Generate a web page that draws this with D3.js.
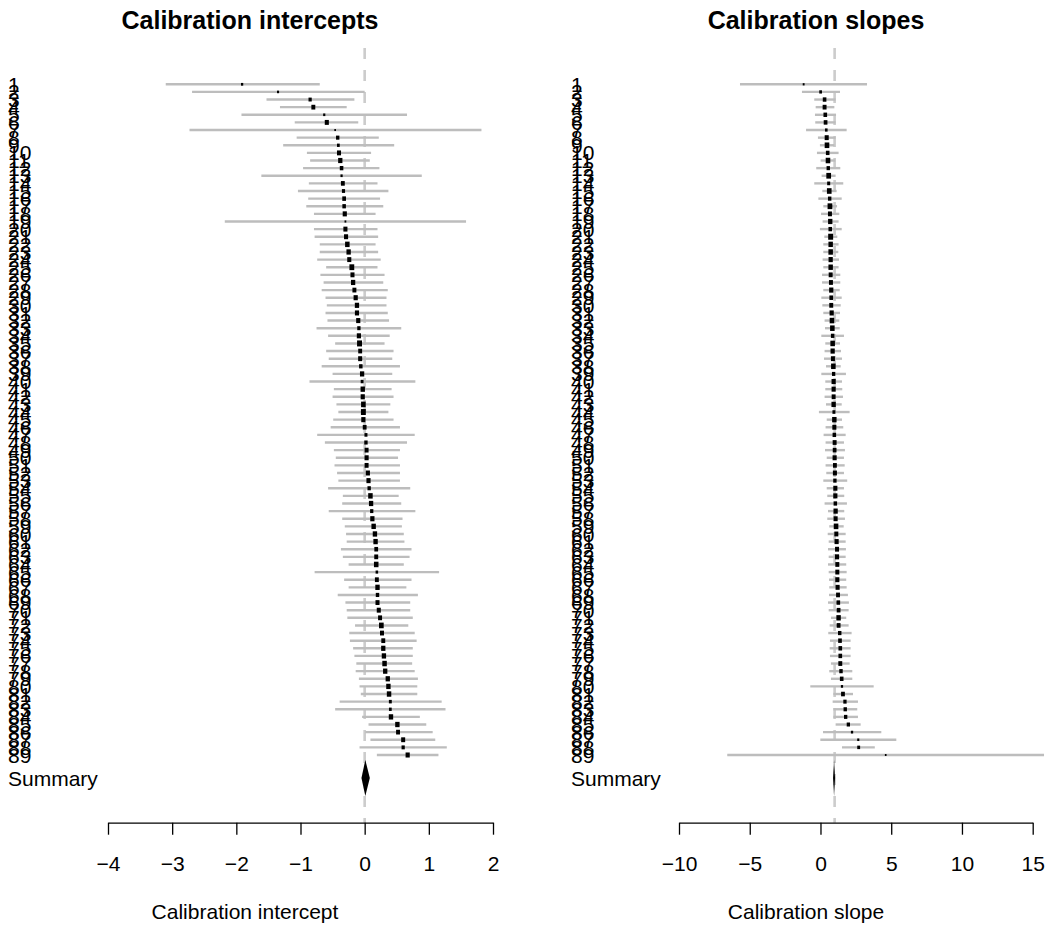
<!DOCTYPE html>
<html>
<head>
<meta charset="utf-8">
<script src="https://cdn.jsdelivr.net/npm/d3@7"></script>
<style>
  html, body { margin: 0; padding: 0; background: #fff; }
  svg { display: block; font-family: "Liberation Sans", Arial, Helvetica, sans-serif; }
</style>
</head>
<body>
<svg id="chart" width="1057" height="925"></svg>
<script>
// ---------------- DATA ----------------
const studyLabels = d3.range(1, 90).map(String);

const interceptEst = [-1.91,-1.35,-0.85,-0.80,-0.63,-0.59,-0.46,-0.42,-0.41,-0.40,
  -0.38,-0.36,-0.36,-0.34,-0.33,-0.32,-0.32,-0.31,-0.30,-0.30,
  -0.29,-0.27,-0.25,-0.24,-0.20,-0.19,-0.18,-0.16,-0.14,-0.12,
  -0.12,-0.10,-0.09,-0.09,-0.08,-0.07,-0.07,-0.06,-0.04,-0.04,
  -0.03,-0.03,-0.02,-0.02,-0.02,0.00,0.02,0.02,0.03,0.03,
  0.03,0.05,0.06,0.07,0.09,0.10,0.11,0.12,0.14,0.16,
  0.17,0.18,0.18,0.18,0.19,0.19,0.20,0.20,0.20,0.22,
  0.24,0.26,0.27,0.29,0.29,0.30,0.31,0.32,0.36,0.37,
  0.38,0.40,0.40,0.41,0.51,0.52,0.60,0.60,0.67];
const interceptLo = [-3.10,-2.69,-1.53,-1.32,-1.92,-1.09,-2.73,-1.06,-1.27,-0.90,
  -0.85,-0.96,-1.61,-0.87,-1.04,-0.88,-0.91,-0.79,-2.18,-0.79,
  -0.78,-0.70,-0.70,-0.74,-0.60,-0.69,-0.64,-0.67,-0.61,-0.59,
  -0.61,-0.58,-0.75,-0.57,-0.46,-0.60,-0.56,-0.67,-0.50,-0.86,
  -0.48,-0.50,-0.44,-0.41,-0.49,-0.53,-0.74,-0.62,-0.48,-0.45,
  -0.47,-0.43,-0.41,-0.57,-0.34,-0.35,-0.56,-0.35,-0.31,-0.29,
  -0.28,-0.37,-0.34,-0.25,-0.78,-0.32,-0.25,-0.42,-0.30,-0.28,
  -0.27,-0.15,-0.24,-0.23,-0.18,-0.16,-0.13,-0.14,-0.09,-0.08,
  -0.06,-0.39,-0.46,-0.04,0.06,0.01,0.09,-0.08,0.19];
const interceptHi = [-0.70,0.00,-0.16,-0.28,0.66,-0.10,1.82,0.22,0.46,0.10,
  0.08,0.23,0.89,0.20,0.37,0.24,0.29,0.17,1.58,0.20,
  0.21,0.17,0.21,0.25,0.20,0.31,0.29,0.36,0.34,0.34,
  0.36,0.38,0.57,0.39,0.31,0.45,0.43,0.55,0.43,0.79,
  0.42,0.45,0.40,0.37,0.45,0.55,0.78,0.66,0.55,0.52,
  0.55,0.55,0.55,0.71,0.53,0.57,0.79,0.59,0.58,0.61,
  0.62,0.73,0.70,0.61,1.16,0.73,0.65,0.83,0.71,0.71,
  0.75,0.68,0.78,0.81,0.75,0.75,0.74,0.78,0.83,0.82,
  0.82,1.20,1.26,0.86,0.96,1.06,1.10,1.28,1.15];

const slopeEst = [-1.19,0.01,0.29,0.29,0.34,0.36,0.41,0.44,0.46,0.51,
  0.53,0.55,0.58,0.58,0.62,0.65,0.67,0.67,0.69,0.69,
  0.72,0.72,0.72,0.72,0.72,0.72,0.74,0.76,0.76,0.76,
  0.79,0.81,0.84,0.86,0.86,0.86,0.88,0.91,0.93,0.93,
  0.93,0.93,0.93,0.95,0.98,0.98,0.98,1.00,1.00,1.00,
  1.02,1.02,1.02,1.05,1.05,1.05,1.07,1.07,1.10,1.12,
  1.14,1.17,1.17,1.19,1.19,1.19,1.21,1.24,1.26,1.28,
  1.28,1.28,1.36,1.38,1.40,1.40,1.40,1.45,1.50,1.52,
  1.59,1.73,1.75,1.78,1.97,2.23,2.67,2.70,4.61];
const slopeLo = [-5.69,-1.31,-0.44,-0.34,-0.39,-0.37,-1.02,-0.18,-0.04,-0.25,
  0.01,-0.30,0.08,-0.44,0.13,-0.15,0.20,0.04,0.15,-0.04,
  0.27,0.20,0.20,0.15,0.20,0.11,0.11,0.20,0.06,0.13,
  0.20,0.29,0.32,0.06,0.34,0.29,0.25,0.39,0.06,0.34,
  0.34,0.29,0.39,-0.11,0.44,0.36,0.22,0.36,0.32,0.44,
  0.36,0.41,0.20,0.44,0.48,0.29,0.53,0.48,0.62,0.51,
  0.58,0.53,0.58,0.53,0.58,0.60,0.62,0.60,0.53,0.58,
  0.74,0.65,0.55,0.67,0.65,0.67,0.74,0.62,0.74,-0.72,
  0.91,0.86,0.91,0.91,1.07,0.18,-0.01,1.52,-6.59];
const slopeHi = [3.29,1.38,1.07,0.98,1.10,1.07,1.85,1.07,0.98,1.28,
  1.05,1.40,1.07,1.61,1.14,1.50,1.17,1.33,1.28,1.50,
  1.19,1.28,1.26,1.31,1.28,1.40,1.40,1.36,1.50,1.43,
  1.38,1.33,1.36,1.66,1.38,1.45,1.52,1.43,1.80,1.52,
  1.54,1.59,1.50,2.06,1.52,1.61,1.78,1.66,1.73,1.66,
  1.71,1.66,1.89,1.66,1.68,1.87,1.68,1.73,1.64,1.78,
  1.78,1.80,1.78,1.82,1.85,1.82,1.85,1.94,2.01,1.99,
  1.82,1.99,2.20,2.13,2.13,2.13,2.06,2.25,2.25,3.76,
  2.30,2.65,2.60,2.65,2.84,4.30,5.36,3.84,15.80];

const summaryLabel = "Summary";
const interceptSummary = [0.01, -0.05, 0.08];   // estimate, lower, upper
const slopeSummary = [0.96, 0.89, 1.03];

const interceptTicks = [-4, -3, -2, -1, 0, 1, 2];
const slopeTicks = [-10, -5, 0, 5, 10, 15];

const panelTitles = ["Calibration intercepts", "Calibration slopes"];
const axisTitles = ["Calibration intercept", "Calibration slope"];
const refValues = [0, 1];

// ---------------- DRAW ----------------
const svg = d3.select("#chart");
const y = d3.scaleLinear().domain([1, 89]).range([84.3, 755]);
const ySummary = 778;
const axisY = 822.7;

const panels = [
  { est: interceptEst, lo: interceptLo, hi: interceptHi, sum: interceptSummary,
    ticks: interceptTicks, domain: [-4, 2], range: [108, 493], labelX: 8,
    title: panelTitles[0], titleX: 250, axisTitle: axisTitles[0], axisTitleX: 245, ref: refValues[0] },
  { est: slopeEst, lo: slopeLo, hi: slopeHi, sum: slopeSummary,
    ticks: slopeTicks, domain: [-10, 15], range: [679, 1032.7], labelX: 571,
    title: panelTitles[1], titleX: 816, axisTitle: axisTitles[1], axisTitleX: 806, ref: refValues[1] }
];

panels.forEach(p => {
  const x = d3.scaleLinear().domain(p.domain).range(p.range);
  const g = svg.append("g");

  // title
  g.append("text").attr("x", p.titleX).attr("y", 29)
    .attr("text-anchor", "middle").attr("font-weight", "bold")
    .attr("font-size", 25).text(p.title);

  // reference dashed line
  g.append("line")
    .attr("x1", x(p.ref)).attr("x2", x(p.ref))
    .attr("y1", 48).attr("y2", axisY)
    .attr("stroke", "#cccccc").attr("stroke-width", 2.6)
    .attr("stroke-dasharray", "11,11");

  const rows = p.est.map((e, i) => ({ i: i + 1, e, lo: p.lo[i], hi: p.hi[i] }));

  // point size ~ inverse CI width, scaled to 0.5..1.5
  const wts = rows.map(r => 1 / (r.hi - r.lo));
  const wmin = d3.min(wts), wmax = d3.max(wts);
  rows.forEach((r, k) => { r.ps = 0.5 + (wts[k] - wmin) / (wmax - wmin); });

  // CI lines
  g.selectAll("line.ci").data(rows).join("line")
    .attr("class", "ci")
    .attr("x1", d => x(d.lo)).attr("x2", d => x(d.hi))
    .attr("y1", d => y(d.i)).attr("y2", d => y(d.i))
    .attr("stroke", "#bdbdbd").attr("stroke-width", 2.4);

  // squares
  g.selectAll("rect.pt").data(rows).join("rect")
    .attr("class", "pt")
    .attr("x", d => x(d.e) - d.ps * 3.3 / 2)
    .attr("y", d => y(d.i) - d.ps * 4.0 / 2)
    .attr("width", d => d.ps * 3.3)
    .attr("height", d => d.ps * 4.0)
    .attr("fill", "#000");

  // row labels
  g.selectAll("text.lab").data(rows).join("text")
    .attr("class", "lab")
    .attr("x", p.labelX).attr("y", d => y(d.i)).attr("dy", "0.36em")
    .attr("font-size", 21).text(d => studyLabels[d.i - 1]);

  g.append("text").attr("x", p.labelX).attr("y", ySummary).attr("dy", "0.36em")
    .attr("font-size", 21).text(summaryLabel);

  // summary diamond
  const [se, sl, sh] = p.sum;
  g.append("path")
    .attr("d", `M${x(sl)},${ySummary} L${x(se)},${ySummary - 18} L${x(sh)},${ySummary} L${x(se)},${ySummary + 18} Z`)
    .attr("fill", "#000");

  // axis
  const axis = d3.axisBottom(x).tickValues(p.ticks).tickFormat(d3.format("d"))
    .tickSize(12).tickSizeOuter(0).tickPadding(21);
  const ga = g.append("g").attr("transform", `translate(0,${axisY})`).call(axis);
  ga.select(".domain").attr("stroke", "#000").attr("stroke-width", 1.3);
  ga.selectAll(".tick line").attr("stroke", "#000").attr("stroke-width", 1.3);
  ga.selectAll(".tick text").attr("font-size", 21).attr("fill", "#000")
    .attr("font-family", "\"Liberation Sans\", Arial, sans-serif");

  g.append("text").attr("x", p.axisTitleX).attr("y", 919)
    .attr("text-anchor", "middle").attr("font-size", 21).text(p.axisTitle);
});
</script>
</body>
</html>
